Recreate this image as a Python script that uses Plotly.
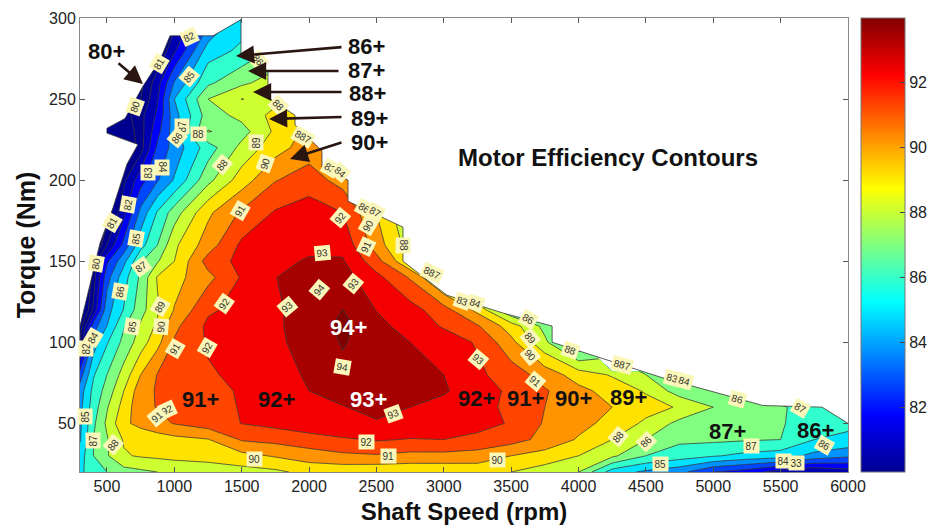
import plotly.graph_objects as go

speed_rpm = [300,400,500,625,750,875,1000,1250,1500,1750,2000,2250,2500,2750,3000,3250,3500,3750,4000,4250,4500,4750,5000,5250,5500,5750,6000]
torque_nm = [20,30,40,50,60,70,80,100,110,120,140,150,160,180,200,220,230,240,250,260,280,300]
N = None
eff_t20 = [85.8,86.5,87,87.6,87.8,88.0,88.2,88.4,88.6,88.8,89.3,89.3,89.2,89.2,89.2,89.3,89.0,88.5,88.0,85.5,84.8,84.3,83,82.5,81.5,81,81.5]
eff_t30 = [85.5,87,87.9,88.9,89.1,89.2,89.3,89.4,89.7,90.1,90.5,90.8,90.9,90.7,90.7,90.6,90.0,89.6,89.0,88.2,87.0,86.5,86.1,85.7,85.5,84.7,84.2]
eff_t40 = [84.9,87,87.9,89.1,89.3,89.5,89.7,89.95,91.1,91.3,91.6,91.85,92.1,91.95,92.0,91.7,91.4,90.7,89.9,89.0,88.0,87.2,87.2,87.1,87.0,86.0,85.8]
eff_t50 = [84.8,86.8,88.2,89.8,90.3,90.7,91.05,91.5,92.02,92.3,92.6,93.0,92.9,92.7,92.5,92.4,91.9,90.9,90.3,89.7,88.8,87.7,87.5,87.3,87.1,86.4,86.2]
eff_t60 = [84.7,86.5,87.9,89.4,90.7,91.05,91.4,91.7,92.05,92.4,92.7,92.95,93.3,93.0,92.7,92.3,91.8,91.0,90.4,90.0,89.4,88.9,88.0,87.6,87.1,86.6,86.3]
eff_t70 = [84.5,86.3,87.4,89,90.6,91.1,91.3,91.7,92.1,92.6,93.0,93.4,93.4,93.3,93.1,92.5,91.8,91.1,90.3,89.6,88.9,87.5,87,86.5,86.3,86.2,86]
eff_t80 = [83.5,85.9,87,88.4,90,91.05,91.3,91.9,92.2,92.7,93.1,93.7,93.6,93.4,93.0,92.2,91.5,90.6,89.5,88.9,88.0,87,86.5,86,N,N,N]
eff_t100 = [80,84.5,85.9,87.3,88.5,89.7,91.1,92.1,92.5,92.9,93.2,94.1,93.4,93.0,92.5,91.9,90.3,88.2,86,N,N,N,N,N,N,N,N]
eff_t110 = [79.5,83.5,85,86.9,88.15,89.2,90.75,92.2,92.4,92.9,93.3,94.3,93.3,92.6,91.9,91.1,89.5,87.7,86,N,N,N,N,N,N,N,N]
eff_t120 = [78,81.2,84.6,86.05,87.6,88.85,90.05,91.85,92.3,92.9,93.3,94.02,92.97,92.4,91.4,89.7,87,N,N,N,N,N,N,N,N,N,N]
eff_t140 = [77,80.6,83.6,85.6,87.2,89.1,89.65,90.7,92.1,92.98,93.4,93.4,92.3,90.9,88.5,86,N,N,N,N,N,N,N,N,N,N,N]
eff_t150 = [76.5,80.4,82.8,84.7,86.9,87.9,89,91.4,92.3,92.75,93.1,93.1,91.4,89,86.5,N,N,N,N,N,N,N,N,N,N,N,N]
eff_t160 = [76,78.5,81,83.3,85.6,87,88.8,90.5,92.2,92.6,92.75,92.7,90.5,88.5,86,N,N,N,N,N,N,N,N,N,N,N,N]
eff_t180 = [74,77,79.5,81.7,84.3,86.1,87.5,89.8,91.15,92.1,92.5,92.0,90,88,86,N,N,N,N,N,N,N,N,N,N,N,N]
eff_t200 = [72,75,77.5,80.8,82.6,83.9,85.1,87.7,89.5,90.95,91.5,90.6,88.5,86,N,N,N,N,N,N,N,N,N,N,N,N,N]
eff_t220 = [70,72,75,78.5,80.6,83.2,84.4,86.5,88.3,89.6,90.5,90,88,N,N,N,N,N,N,N,N,N,N,N,N,N,N]
eff_t230 = [69,71,73,79,80.6,82.7,84.5,88.05,87.6,89.2,90.3,90,N,N,N,N,N,N,N,N,N,N,N,N,N,N,N]
eff_t240 = [68,70,72,79.5,80.7,82.2,84.6,87.5,88.3,89.3,89.8,90,N,N,N,N,N,N,N,N,N,N,N,N,N,N,N]
eff_t250 = [67,69,72,78.7,80,81.9,85,88.0,89.02,88.7,89.5,N,N,N,N,N,N,N,N,N,N,N,N,N,N,N,N]
eff_t260 = [66,68,72,78,79.7,81.6,84.1,86.8,87.8,88.5,89,N,N,N,N,N,N,N,N,N,N,N,N,N,N,N,N]
eff_t280 = [64,66,70,76,78,80,81.8,85.5,86.2,87.2,88,N,N,N,N,N,N,N,N,N,N,N,N,N,N,N,N]
eff_t300 = [62,64,68,74,76,79,80.5,83.5,85.5,87,88,N,N,N,N,N,N,N,N,N,N,N,N,N,N,N,N]
efficiency = [eff_t20,eff_t30,eff_t40,eff_t50,eff_t60,eff_t70,eff_t80,eff_t100,eff_t110,eff_t120,eff_t140,eff_t150,eff_t160,eff_t180,eff_t200,eff_t220,eff_t230,eff_t240,eff_t250,eff_t260,eff_t280,eff_t300]

# operating envelope: anything above it is not measured
env_rpm = [300,448,545,649,730,500,500,634,768,894,968,1287,1495,1495,1695,1695,1896,1896,2096,2096,2289,2289,2697,2697,3024,3440,3804,3804,4627,5369,5807,6000]
env_nm = [110,161,183,210,222,229,232,238,258,274,289,289,299,278,267,251,240,234,218,208,200,187,171,150,129,118,110,100,78,61,60,50]

xticks = [500,1000,1500,2000,2500,3000,3500,4000,4500,5000,5500,6000]
yticks = [50,100,150,200,250,300]
cbticks = [82,84,86,88,90,92]

contour_labels = ["82","81","85","80","87","86","88","83","84","82","81","85","80","86","87","85","89","90","91","92","92","93","94","93","93","91","88","90","86","87","92","91","88","90","89","88","86","887","83","84","887","83","84","86","89","90","91","93","88","887","83","84","86","87","88","86","85","87","84","33","86","90","91","92","90","93","94","92","91","88","87","85","82","84"]
label_px_x = [189,159,189,135,182,177,198,148,162,128,112,136,96,120,141,132,160,161,175,207,224,287,319,353,322,366,403,368,364,375,340,240,222,265,256,278,258,303,330,340,432,462,475,528,530,530,535,478,570,622,672,684,737,800,618,646,660,751,783,796,824,254,388,366,497,393,342,167,157,113,93,85,86,93]
label_px_y = [37,64,77,107,127,138,134,173,167,205,223,239,264,292,267,327,307,327,349,348,304,307,290,284,253,247,245,226,208,212,218,211,165,164,143,105,60,137,168,172,273,301,303,319,338,355,381,359,350,365,378,381,399,408,437,442,464,446,461,463,445,459,456,442,460,414,367,410,417,445,441,417,349,338]
label_angle = [-25,-60,-50,-70,-90,-50,0,-90,90,-80,-60,-80,-80,-80,-35,-80,-60,-85,-60,-60,-55,-40,-50,-50,-5,-65,90,-60,30,30,-50,-60,-50,-70,-90,45,50,30,30,40,25,20,20,30,50,50,40,40,20,15,15,15,15,30,-50,-45,0,0,0,0,30,0,0,0,0,-20,10,-25,-40,-50,-90,-90,-90,-60]

big_text = ["80+","86+","87+","88+","89+","90+","91+","92+","92+","91+","90+","89+","87+","86+","93+","94+"]
big_x = [106,366,366,367,369,369,200,276,476,525,573,628,727,815,368,348]
big_y = [51,46,70,94,118,142,399,399,398,398,398,397,431,430,399,327]
big_colour = ["#111"]*14 + ["#fff","#fff"]

arrow_tip_x = [143,236,248,253,269,290]
arrow_tip_y = [84,56,71,92,119,159]
arrow_dx = [-26,107,92,90,74,53]
arrow_dy = [-22,-9,0,0,-2,-17]

jet = [[0,"#00008f"],[0.125,"#0000ff"],[0.375,"#00ffff"],[0.625,"#ffff00"],[0.875,"#ff0000"],[1,"#800000"]]
SANS = "Liberation Sans, Arial, sans-serif"
L, R, T, B = 80, 848, 18, 472
def px(v): return (v-L)/(R-L)
def py(v): return (B-v)/(B-T)

fig = go.Figure()
fig.add_trace(go.Contour(x=speed_rpm, y=torque_nm, z=efficiency, colorscale=jet, zauto=False, zmin=81, zmax=95,
    autocontour=False, contours=dict(start=80, end=94, size=1, coloring="fill", showlabels=False),
    line=dict(color="#3a3a3a", width=0.8, smoothing=0), showscale=False, connectgaps=False, hoverinfo="skip"))
fig.add_trace(go.Scatter(x=env_rpm+[6200,6200,200,200,300], y=env_nm+[50,320,320,110,110], mode="lines", fill="toself",
    fillcolor="white", line=dict(color="#333", width=0.8), hoverinfo="skip", showlegend=False))
fig.add_trace(go.Scatter(x=[300,300], y=[20,20], mode="markers", showlegend=False, hoverinfo="skip",
    marker=dict(size=1, opacity=0, color=[80,94], cmin=80, cmax=94, colorscale=jet, showscale=True,
        colorbar=dict(x=px(861), xanchor="left", y=0, yanchor="bottom",
            lenmode="fraction", len=1, thicknessmode="pixels", thickness=44, tickvals=cbticks, ticks="inside", ticklen=5,
            tickcolor="#444", outlinecolor="#777", outlinewidth=1, xpad=0, ypad=0, tickfont=dict(family=SANS, size=16, color="#222")))))

ann = []
for t,x,y,a in zip(contour_labels,label_px_x,label_px_y,label_angle):
    ann.append(dict(text=t,x=px(x),y=py(y),xref="paper",yref="paper",xanchor="center",yanchor="middle",showarrow=False,textangle=a,
        font=dict(family=SANS,size=10,color="#333"),bgcolor="#fbf7b8",borderpad=1.5))
for tx,x,y,dx,dy in zip(["","","","","",""],arrow_tip_x,arrow_tip_y,arrow_dx,arrow_dy):
    ann.append(dict(text=tx,x=px(x),y=py(y),xref="paper",yref="paper",ax=dx,ay=dy,axref="pixel",ayref="pixel",showarrow=True,
        arrowhead=2,arrowsize=1.4,arrowwidth=2.6,arrowcolor="#2a1610"))
for t,x,y,c in zip(big_text,big_x,big_y,big_colour):
    ann.append(dict(text="<b>%s</b>"%t,x=px(x),y=py(y),xref="paper",yref="paper",xanchor="center",yanchor="middle",showarrow=False,
        font=dict(family=SANS,size=22,color=c)))
ann.append(dict(text="<b>Motor Efficiency Contours</b>",x=px(608),y=py(157),xref="paper",yref="paper",xanchor="center",yanchor="middle",showarrow=False,
    font=dict(family=SANS,size=24,color="#111")))

axis = dict(showgrid=False, zeroline=False, showline=True, linecolor="#888", linewidth=1, mirror="ticks", ticks="inside",
    ticklen=5, tickcolor="#555", tickfont=dict(family=SANS,size=16,color="#222"))
fig.update_layout(width=930, height=525, autosize=False, margin=dict(l=L,r=930-R,t=T,b=525-B,autoexpand=False), paper_bgcolor="white", plot_bgcolor="white",
    showlegend=False, annotations=ann,
    xaxis=dict(axis, range=[300,6000], tickvals=xticks, title=dict(text="<b>Shaft Speed (rpm)</b>",standoff=8,font=dict(family=SANS,size=24,color="#111"))),
    yaxis=dict(axis, range=[20,300], tickvals=yticks, title=dict(text="<b>Torque (Nm)</b>",standoff=6,font=dict(family=SANS,size=25,color="#111"))))
fig.write_html("out.html", config=dict(displayModeBar=False), post_script="document.body.style.margin='0';document.documentElement.style.overflow='hidden';")
